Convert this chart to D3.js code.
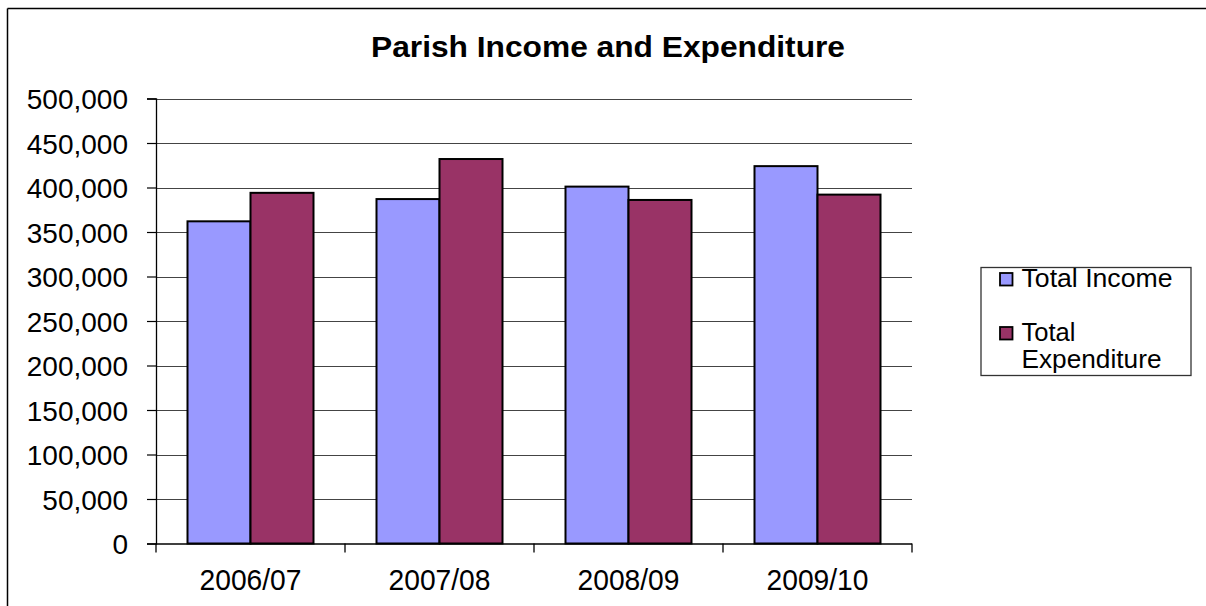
<!DOCTYPE html>
<html>
<head>
<meta charset="utf-8">
<script src="https://cdn.jsdelivr.net/npm/d3@7"></script>
<style>
  html, body { margin: 0; padding: 0; background: #fff; }
  svg { display: block; }
  text { font-family: Arial, "Liberation Sans", sans-serif; fill: #000; }
</style>
</head>
<body>
<svg id="chart" width="1206" height="606"></svg>
<script>
const categories = ["2006/07", "2007/08", "2008/09", "2009/10"];
const seriesNames = ["Total Income", "Total Expenditure"];
const totalIncome = [362000, 387000, 401000, 424000];
const totalExpenditure = [394000, 432000, 386000, 392000];
const yTicks = [0, 50000, 100000, 150000, 200000, 250000, 300000, 350000, 400000, 450000, 500000];
const colors = ["#9999FF", "#993366"];

const svg = d3.select("#chart");
const W = 1206, H = 606;
svg.append("rect").attr("width", W).attr("height", H).attr("fill", "#fff");

// outer chart border (top and left visible)
svg.append("line").attr("x1", 7.5).attr("x2", W).attr("y1", 8.5).attr("y2", 8.5).attr("stroke", "#000").attr("stroke-width", 1.5);
svg.append("line").attr("x1", 7.5).attr("x2", 7.5).attr("y1", 8.5).attr("y2", H).attr("stroke", "#000").attr("stroke-width", 1.5);

const plot = { left: 156, right: 912, top: 98.5, bottom: 543.5 };

const x = d3.scaleBand().domain(categories).range([plot.left, plot.right]).paddingInner(0).paddingOuter(0);
const xs = d3.scaleBand().domain(seriesNames).range([x.bandwidth() / 6, x.bandwidth() * 5 / 6]).padding(0);
const y = d3.scaleLinear().domain([0, 500000]).range([plot.bottom, plot.top]);

// title
svg.append("text")
  .attr("x", 608).attr("y", 56.5)
  .attr("text-anchor", "middle")
  .attr("font-size", 29).attr("font-weight", "bold")
  .attr("textLength", 474).attr("lengthAdjust", "spacingAndGlyphs")
  .text("Parish Income and Expenditure");

// gridlines
svg.append("g").selectAll("line").data(yTicks.filter(d => d > 0)).join("line")
  .attr("x1", plot.left).attr("x2", plot.right)
  .attr("y1", d => Math.round(y(d)) + 0.5).attr("y2", d => Math.round(y(d)) + 0.5)
  .attr("stroke", "#444").attr("stroke-width", 1.2);

// bars
const data = categories.map((c, i) => ({ cat: c, vals: [totalIncome[i], totalExpenditure[i]] }));
const g = svg.append("g").selectAll("g").data(data).join("g")
  .attr("transform", d => `translate(${x(d.cat)},0)`);
g.selectAll("rect").data(d => d.vals.map((v, j) => ({ name: seriesNames[j], v, j }))).join("rect")
  .attr("x", d => xs(d.name))
  .attr("width", xs.bandwidth())
  .attr("y", d => y(d.v))
  .attr("height", d => y(0) - y(d.v))
  .attr("fill", d => colors[d.j])
  .attr("stroke", "#000").attr("stroke-width", 2);

// y axis
const yAxis = d3.axisLeft(y).tickValues(yTicks).tickSize(9).tickPadding(19)
  .tickFormat(d3.format(","));
const ya = svg.append("g").attr("transform", `translate(${plot.left},0)`).call(yAxis);
ya.select(".domain").attr("stroke", "#000").attr("stroke-width", 1.3);
ya.selectAll(".tick line").attr("stroke", "#000").attr("stroke-width", 1.2);
ya.selectAll(".tick text")
  .attr("font-size", 28).attr("font-family", "Arial, 'Liberation Sans', sans-serif")
  .attr("fill", "#000")
  .attr("dy", "0.36em");

// x axis
svg.append("line").attr("x1", plot.left).attr("x2", plot.right)
  .attr("y1", plot.bottom + 0.5).attr("y2", plot.bottom + 0.5)
  .attr("stroke", "#000").attr("stroke-width", 1.5);
const bounds = categories.map(c => x(c)).concat([x(categories[categories.length - 1]) + x.bandwidth()]);
svg.append("g").selectAll("line").data(bounds).join("line")
  .attr("x1", d => d).attr("x2", d => d)
  .attr("y1", plot.bottom).attr("y2", plot.bottom + 9)
  .attr("stroke", "#000").attr("stroke-width", 1.3);
svg.append("g").selectAll("text").data(categories).join("text")
  .attr("x", d => x(d) + x.bandwidth() / 2)
  .attr("y", 590)
  .attr("text-anchor", "middle")
  .attr("font-size", 30)
  .attr("textLength", 102).attr("lengthAdjust", "spacingAndGlyphs")
  .text(d => d);

// legend
const lg = svg.append("g");
lg.append("rect").attr("x", 981).attr("y", 267.5).attr("width", 210).attr("height", 108)
  .attr("fill", "#fff").attr("stroke", "#333").attr("stroke-width", 1.3);
const legendItems = [
  { lines: ["Total Income"], widths: [151], y: 286.5, color: colors[0] },
  { lines: ["Total", "Expenditure"], widths: [54, 140], y: 340.5, color: colors[1] }
];
legendItems.forEach(it => {
  lg.append("rect").attr("x", 1000).attr("y", it.y - 13.5).attr("width", 12.5).attr("height", 12.5)
    .attr("fill", it.color).attr("stroke", "#000").attr("stroke-width", 1.8);
  it.lines.forEach((t, k) => {
    lg.append("text").attr("x", 1021.5).attr("y", it.y + k * 27.8)
      .attr("font-size", 25)
      .attr("textLength", it.widths[k]).attr("lengthAdjust", "spacingAndGlyphs")
      .text(t);
  });
});
</script>
</body>
</html>
